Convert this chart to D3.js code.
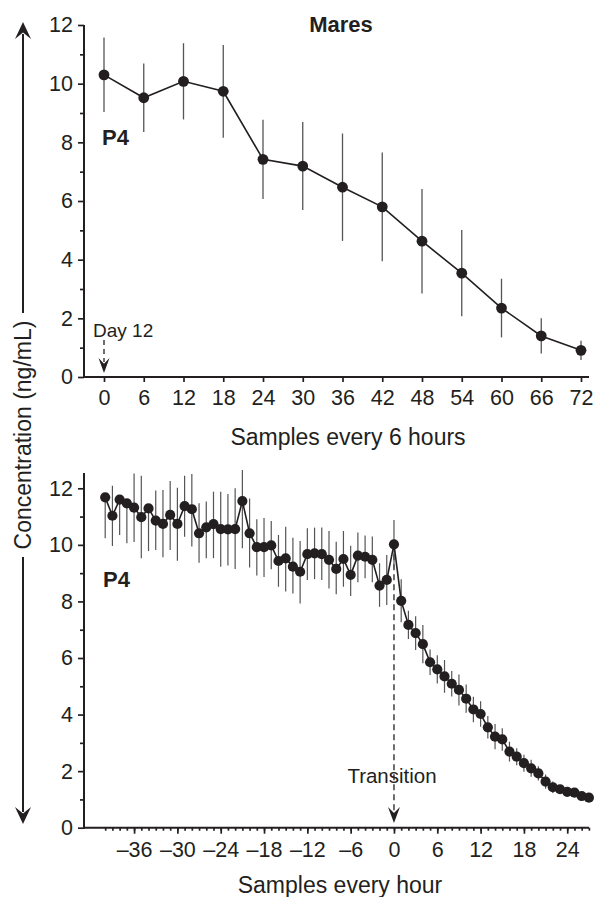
<!DOCTYPE html>
<html>
<head>
    <meta charset="utf-8">
    <title>Mares P4</title>
    <style>
        body { margin: 0; padding: 0; background: #fff; }
        svg { display: block; }
        text { font-family: "Liberation Sans", Arial, sans-serif; fill: #231f20; }
    </style>
</head>
<body>
    <div id="container"></div>
    <script src="https://d3js.org/d3.v7.min.js"></script>
    <script>
        // ---- data: samples every 6 hours (top panel)
        var hours6 = [0, 6, 12, 18, 24, 30, 36, 42, 48, 54, 60, 66, 72];
        var p4Six = [10.3, 9.52, 10.08, 9.74, 7.42, 7.19, 6.47, 5.8, 4.63, 3.54, 2.35, 1.4, 0.91];
        var errSix = [1.27, 1.17, 1.3, 1.58, 1.35, 1.5, 1.83, 1.85, 1.78, 1.47, 1.0, 0.6, 0.33];

        // ---- data: samples every hour (bottom panel), -40 .. 27 h from transition
        var hours1 = d3.range(-40, 28);
        var p4Hour = [11.68, 11.03, 11.6, 11.47, 11.32, 10.98, 11.29, 10.86, 10.74, 11.06,
            10.74, 11.37, 11.26, 10.41, 10.62, 10.73, 10.56, 10.55, 10.56, 11.55,
            10.41, 9.92, 9.92, 9.98, 9.43, 9.52, 9.23, 9.05, 9.67, 9.7,
            9.67, 9.47, 9.15, 9.5, 8.94, 9.62, 9.58, 9.47, 8.56, 8.76,
            10.02, 8.02, 7.17, 6.88, 6.49, 5.85, 5.6, 5.35, 5.09, 4.87,
            4.56, 4.18, 4.02, 3.55, 3.22, 3.12, 2.69, 2.51, 2.28, 2.1,
            1.92, 1.63, 1.43, 1.36, 1.27, 1.24, 1.12, 1.06];
        var errUp = [0, 1.06, 0, 0, 1.2, 1.46, 0, 1.06, 1.2, 1.2,
            1.28, 1.07, 1.25, 1.06, 0.91, 1.15, 1.32, 1.25, 1.44, 1.1,
            1.23, 0.99, 1.03, 0.86, 0.92, 1.12, 1.02, 1.09, 0.92, 0.91,
            0.94, 1.02, 0.96, 0.99, 1.03, 0.82, 0.75, 0.83, 0.79, 0.88,
            0.86, 0.76, 0.5, 0.6, 0.68, 0.45, 0.5, 0.58, 0.45, 0.55,
            0.5, 0.45, 0.45, 0.4, 0.45, 0.4, 0.35, 0.3, 0.3, 0.3,
            0.25, 0.25, 0.2, 0.15, 0.15, 0.12, 0.12, 0.1];
        var errDown = [1.45, 1.07, 1.25, 1.41, 1.22, 1.45, 1.51, 1.04, 1.18, 1.24,
            1.3, 1.08, 1.32, 1.04, 1.09, 1.2, 1.33, 1.28, 1.41, 1.67,
            1.21, 1.0, 1.06, 0.84, 0.91, 1.17, 0.95, 1.12, 0.91, 0.91,
            0.91, 1.01, 0.9, 0.98, 0.75, 0.94, 0.76, 0.79, 0.75, 0.89,
            0.86, 0.76, 0.5, 0.6, 0.68, 0.45, 0.5, 0.58, 0.45, 0.55,
            0.5, 0.45, 0.45, 0.4, 0.45, 0.4, 0.35, 0.3, 0.3, 0.3,
            0.25, 0.25, 0.2, 0.15, 0.15, 0.12, 0.12, 0.1];

        var yMajor = [0, 2, 4, 6, 8, 10, 12];
        var yMinor = [1, 3, 5, 7, 9, 11];
        var hourLabels = [-36, -30, -24, -18, -12, -6, 0, 6, 12, 18, 24];

        var ink = "#231f20";
        var barColor = "#555555";

        var svg = d3.select("div#container")
            .append("svg")
            .attr("width", 596)
            .attr("height", 897);

        function arrowHead(x, y, dir, w, h) {
            // stealth arrow, tip at (x,y); dir 1 = pointing down, -1 = pointing up
            var n = h * 0.62;
            return "M" + x + "," + y +
                "L" + (x - w / 2) + "," + (y - dir * h) +
                "L" + x + "," + (y - dir * n) +
                "L" + (x + w / 2) + "," + (y - dir * h) + "Z";
        }

        function styleAxis(g, size) {
            g.select(".domain").remove();
            g.selectAll("line").attr("stroke", ink).attr("stroke-width", 1.7);
            g.selectAll("text").style("font-size", size + "px").attr("fill", ink);
        }

        // en dash for negative tick labels, as in the figure
        var hourFmt = function (d) { return d < 0 ? "\u2013" + Math.abs(d) : String(d); };

        // ================= top panel =================
        var xTop = d3.scaleLinear().domain([0, 72]).range([104, 581]);
        var yTop = d3.scaleLinear().domain([0, 12]).range([377, 25]);

        var gTop = svg.append("g");

        gTop.append("g")
            .attr("transform", "translate(84,0)")
            .call(d3.axisLeft(yTop).tickValues(yMajor).tickSize(6).tickPadding(5))
            .call(styleAxis, 21.5);
        gTop.append("g")
            .attr("transform", "translate(84,0)")
            .call(d3.axisLeft(yTop).tickValues(yMinor).tickSize(4).tickFormat(""))
            .call(styleAxis, 21.5);
        gTop.append("g")
            .attr("transform", "translate(0," + yTop(0) + ")")
            .call(d3.axisBottom(xTop).tickValues(hours6).tickSize(5).tickPadding(8))
            .call(styleAxis, 21.5);

        gTop.append("line")
            .attr("x1", 84).attr("x2", 84)
            .attr("y1", yTop(12)).attr("y2", yTop(0) + 1)
            .attr("stroke", ink).attr("stroke-width", 2);
        gTop.append("line")
            .attr("x1", 83).attr("x2", 589)
            .attr("y1", yTop(0)).attr("y2", yTop(0))
            .attr("stroke", ink).attr("stroke-width", 2);

        // Day 12 marker
        gTop.append("line")
            .attr("x1", xTop(0)).attr("x2", xTop(0))
            .attr("y1", 340).attr("y2", 362)
            .attr("stroke", ink).attr("stroke-width", 1.3)
            .attr("stroke-dasharray", "5,4");
        gTop.append("path")
            .attr("d", arrowHead(xTop(0), 373, 1, 11, 15))
            .attr("fill", ink);
        gTop.append("text")
            .attr("x", 93).attr("y", 337)
            .style("font-size", "19px")
            .text("Day 12");

        gTop.selectAll(".ebar")
            .data(hours6)
            .enter().append("line")
            .attr("x1", function (d) { return xTop(d); })
            .attr("x2", function (d) { return xTop(d); })
            .attr("y1", function (d, i) { return yTop(p4Six[i] + errSix[i]); })
            .attr("y2", function (d, i) { return yTop(p4Six[i] - errSix[i]); })
            .attr("stroke", barColor).attr("stroke-width", 1.3);

        gTop.append("path")
            .datum(hours6)
            .attr("fill", "none")
            .attr("stroke", ink)
            .attr("stroke-width", 1.6)
            .attr("d", d3.line()
                .x(function (d) { return xTop(d); })
                .y(function (d, i) { return yTop(p4Six[i]); }));

        gTop.selectAll(".dot")
            .data(hours6)
            .enter().append("circle")
            .attr("cx", function (d) { return xTop(d); })
            .attr("cy", function (d, i) { return yTop(p4Six[i]); })
            .attr("r", 5.4)
            .attr("fill", ink);

        gTop.append("text")
            .attr("x", 341).attr("y", 32)
            .attr("text-anchor", "middle")
            .style("font-size", "22px").style("font-weight", "bold")
            .text("Mares");
        gTop.append("text")
            .attr("x", 102).attr("y", 145)
            .style("font-size", "22px").style("font-weight", "bold")
            .text("P4");
        gTop.append("text")
            .attr("x", 348).attr("y", 445)
            .attr("text-anchor", "middle")
            .style("font-size", "23px")
            .text("Samples every 6 hours");

        // ================= bottom panel =================
        var xBot = d3.scaleLinear().domain([-40, 27]).range([105.2, 588.9]);
        var yBot = d3.scaleLinear().domain([0, 12]).range([827.7, 488.3]);

        var gBot = svg.append("g");

        gBot.append("g")
            .attr("transform", "translate(84,0)")
            .call(d3.axisLeft(yBot).tickValues(yMajor).tickSize(6).tickPadding(5))
            .call(styleAxis, 21.5);
        gBot.append("g")
            .attr("transform", "translate(84,0)")
            .call(d3.axisLeft(yBot).tickValues(yMinor).tickSize(4).tickFormat(""))
            .call(styleAxis, 21.5);
        gBot.append("g")
            .attr("transform", "translate(0," + yBot(0) + ")")
            .call(d3.axisBottom(xBot).tickValues(hours1).tickSize(3).tickFormat(""))
            .call(styleAxis, 21.5);
        gBot.append("g")
            .attr("transform", "translate(0," + yBot(0) + ")")
            .call(d3.axisBottom(xBot).tickValues(hourLabels).tickSize(6).tickPadding(8).tickFormat(hourFmt))
            .call(styleAxis, 21.5);

        gBot.append("line")
            .attr("x1", 84).attr("x2", 84)
            .attr("y1", 473).attr("y2", yBot(0) + 1)
            .attr("stroke", ink).attr("stroke-width", 2);
        gBot.append("line")
            .attr("x1", 83).attr("x2", 589)
            .attr("y1", yBot(0)).attr("y2", yBot(0))
            .attr("stroke", ink).attr("stroke-width", 2);

        // transition marker
        gBot.append("line")
            .attr("x1", xBot(0)).attr("x2", xBot(0))
            .attr("y1", yBot(p4Hour[40])).attr("y2", 812)
            .attr("stroke", ink).attr("stroke-width", 1.3)
            .attr("stroke-dasharray", "6,4");
        gBot.append("path")
            .attr("d", arrowHead(xBot(0), 823, 1, 12, 16))
            .attr("fill", ink);
        gBot.append("text")
            .attr("x", 392).attr("y", 783)
            .attr("text-anchor", "middle")
            .style("font-size", "20.5px")
            .text("Transition");

        gBot.selectAll(".ebar")
            .data(hours1)
            .enter().append("line")
            .attr("x1", function (d) { return xBot(d); })
            .attr("x2", function (d) { return xBot(d); })
            .attr("y1", function (d, i) { return yBot(p4Hour[i] + errUp[i]); })
            .attr("y2", function (d, i) { return yBot(p4Hour[i] - errDown[i]); })
            .attr("stroke", barColor).attr("stroke-width", 1.2);

        gBot.append("path")
            .datum(hours1)
            .attr("fill", "none")
            .attr("stroke", ink)
            .attr("stroke-width", 1.6)
            .attr("d", d3.line()
                .x(function (d) { return xBot(d); })
                .y(function (d, i) { return yBot(p4Hour[i]); }));

        gBot.selectAll(".dot")
            .data(hours1)
            .enter().append("circle")
            .attr("cx", function (d) { return xBot(d); })
            .attr("cy", function (d, i) { return yBot(p4Hour[i]); })
            .attr("r", 5.1)
            .attr("fill", ink);

        gBot.append("text")
            .attr("x", 103).attr("y", 587)
            .style("font-size", "22px").style("font-weight", "bold")
            .text("P4");
        gBot.append("text")
            .attr("x", 340).attr("y", 893)
            .attr("text-anchor", "middle")
            .style("font-size", "23px")
            .text("Samples every hour");

        // ================= shared y label with arrows =================
        svg.append("text")
            .attr("transform", "translate(31,435) rotate(-90)")
            .attr("text-anchor", "middle")
            .style("font-size", "23px")
            .text("Concentration (ng/mL)");
        svg.append("line")
            .attr("x1", 23).attr("x2", 23)
            .attr("y1", 34).attr("y2", 313)
            .attr("stroke", ink).attr("stroke-width", 2);
        svg.append("line")
            .attr("x1", 23).attr("x2", 23)
            .attr("y1", 557).attr("y2", 812)
            .attr("stroke", ink).attr("stroke-width", 2);
        svg.append("path")
            .attr("d", arrowHead(23, 22, -1, 16, 17))
            .attr("fill", ink);
        svg.append("path")
            .attr("d", arrowHead(23, 824, 1, 16, 17))
            .attr("fill", ink);
    </script>
</body>
</html>
